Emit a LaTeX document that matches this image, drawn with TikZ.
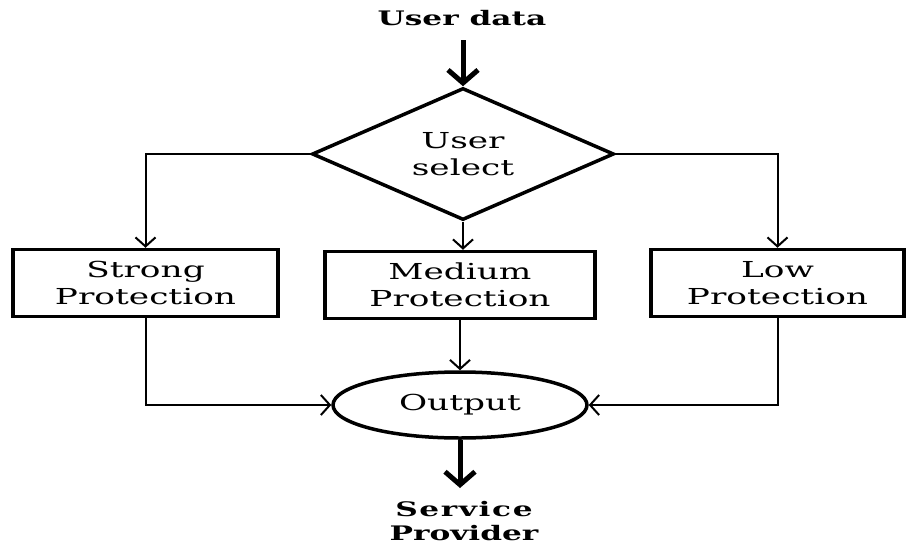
\documentclass[tikz,border=0pt]{standalone}
\usepackage{fontspec}
\setmainfont[FakeStretch=1.56]{DejaVu Serif}
\usetikzlibrary{shapes.geometric,arrows.meta}
\begin{document}
\begin{tikzpicture}[x=1pt,y=-1pt,
  txt/.style={font=\fontsize{22}{27}\selectfont,align=center,inner sep=0pt},
  bold/.style={font=\fontsize{20}{24}\selectfont\bfseries,align=center,inner sep=0pt},
  box/.style={txt,draw,line width=3.5pt,minimum width=#1,minimum height=67pt},
  decision/.style={draw,diamond,line width=3.5pt,minimum width=302pt,minimum height=132pt,inner sep=0pt},
  terminal/.style={txt,draw,ellipse,line width=3.5pt,minimum width=254pt,minimum height=66pt,inner sep=0pt},
  conn/.style={line width=2pt,-{Straight Barb[length=9pt,width=20pt,line width=2pt]}},
  flow/.style={line width=5pt,-{Straight Barb[length=13pt,width=30pt,line width=5pt]}}
]
\useasboundingbox (0,0) rectangle (906,544);

\node[bold] (ud) at (462,18) {User data};
% the diamond is drawn empty so its size stays fixed; its text sits on top
\node[decision] (sel) at (463,154) {};
\node[txt] (seltext) at (sel.center) {User\\select};
\node[box=265pt] (strong) at (145.5,283) {Strong\\Protection};
\node[box=270pt] (medium) at (460,285) {Medium\\Protection};
\node[box=253pt] (low) at (777.5,283) {Low\\Protection};
\node[terminal] (out) at (460,405) {Output};
\node[bold] (sp) at (464,521) {\addfontfeature{LetterSpace=8}Service\\Provider};

\coordinate (udfoot) at (463,40);
\coordinate (spfoot) at (460,488);
\draw[flow] (udfoot) -- (sel.north);
\draw[conn] (sel.west) -| (strong.north);
\draw[conn] (sel.east) -| (low.north);
\draw[conn] (sel.south) -- (sel.south |- medium.north);
\draw[conn] (strong.south) |- (out.west);
\draw[conn] (low.south) |- (out.east);
\draw[conn] (medium.south) -- (medium.south |- out.north);
\draw[flow] (out.south) -- (spfoot);
\end{tikzpicture}
\end{document}
